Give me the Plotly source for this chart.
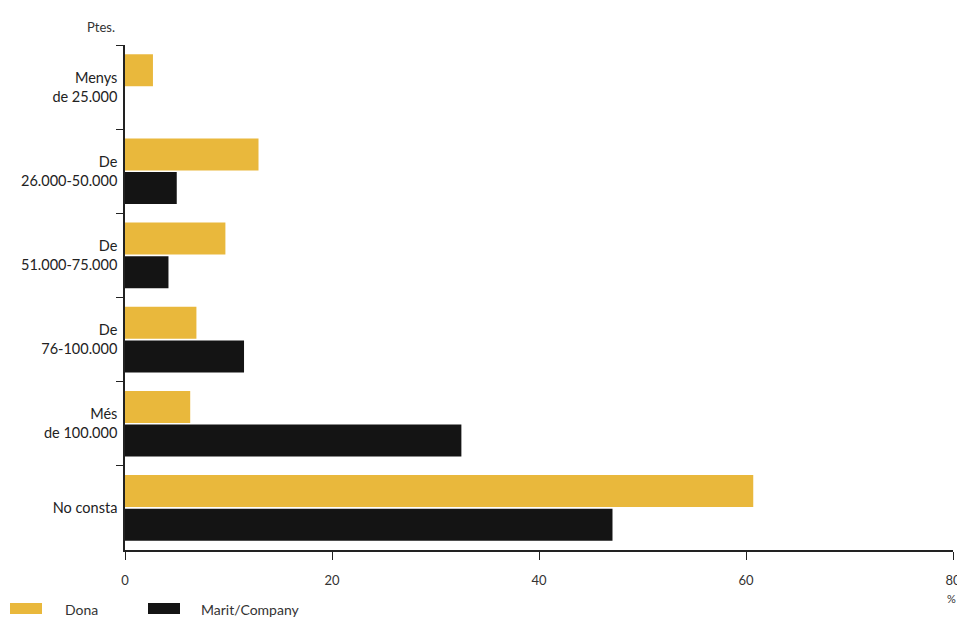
import plotly.graph_objects as go

categories = ["Menys<br>de 25.000", "De<br>26.000-50.000", "De<br>51.000-75.000",
              "De<br>76-100.000", "Més<br>de 100.000", "No consta"]
dona = [2.7, 12.9, 9.7, 6.9, 6.3, 60.7]
marit = [None, 5.0, 4.2, 11.5, 32.5, 47.1]
x_ticks = [0, 20, 40, 60, 80]
series_names = ["Dona", "Marit/Company"]

YELLOW = "#E9B83C"
BLACK = "#141414"
FONT = "Lato, 'Open Sans', sans-serif"

# page body adds an 8px margin; figure sized to fit inside the 965x620 window
OFF = 8
W, H = 965 - OFF, 620 - OFF
# plot area in window pixels: x 125..953, y 45..550
L, R = 125 - OFF, W - (953 - OFF)
T, B = 45 - OFF, H - (550 - OFF)
PW, PH = W - L - R, H - T - B

def px_x(x):
    return (x - OFF - L) / PW

def px_y(y):
    return (H - B - (y - OFF)) / PH

fig = go.Figure()
fig.add_trace(go.Bar(y=categories, x=dona, orientation="h", name=series_names[0],
                     marker=dict(color=YELLOW, line=dict(width=0))))
fig.add_trace(go.Bar(y=categories, x=marit, orientation="h", name=series_names[1],
                     marker=dict(color=BLACK, line=dict(width=0))))

fig.update_layout(
    width=W, height=H,
    margin=dict(l=L, r=R, t=T, b=B, autoexpand=False),
    paper_bgcolor="white", plot_bgcolor="white",
    barmode="group", bargap=0.2, bargroupgap=0.05,
    font=dict(family=FONT, size=14, color="#222"),
    showlegend=False,
)
fig.update_xaxes(range=[0, 80], tickvals=x_ticks, ticks="outside", ticklen=8,
                 tickcolor="#222", showline=True, linecolor="#222", linewidth=1.5,
                 showgrid=False, zeroline=False, tickfont=dict(size=13, color="#333"),
                 ticklabelstandoff=10, automargin=False)
fig.update_yaxes(autorange="reversed", ticks="outside", tickson="boundaries",
                 ticklen=7, tickcolor="#222", showline=True, linecolor="#222",
                 linewidth=1.5, showgrid=False, tickfont=dict(size=14.5, color="#222"),
                 ticklabelstandoff=3, automargin=False)

# axis unit labels
fig.add_annotation(text="Ptes.", xref="paper", yref="paper", x=px_x(117), y=px_y(27),
                   xanchor="right", yanchor="middle", showarrow=False,
                   font=dict(size=13, color="#333"))
fig.add_annotation(text="%", xref="paper", yref="paper", x=px_x(951), y=px_y(598),
                   xanchor="center", yanchor="middle", showarrow=False,
                   font=dict(size=11, color="#333"))

# legend (swatches + labels)
legend_items = [(series_names[0], YELLOW, 10, 63), (series_names[1], BLACK, 148, 199)]
for name, col, sx, tx in legend_items:
    fig.add_shape(type="rect", xref="paper", yref="paper",
                  x0=px_x(sx), x1=px_x(sx + 32), y0=px_y(614), y1=px_y(603),
                  fillcolor=col, line=dict(width=0))
    fig.add_annotation(text=name, xref="paper", yref="paper", x=px_x(tx), y=px_y(609),
                       xanchor="left", yanchor="middle", showarrow=False,
                       font=dict(size=14, color="#333"))

fig.write_html("out.html")
